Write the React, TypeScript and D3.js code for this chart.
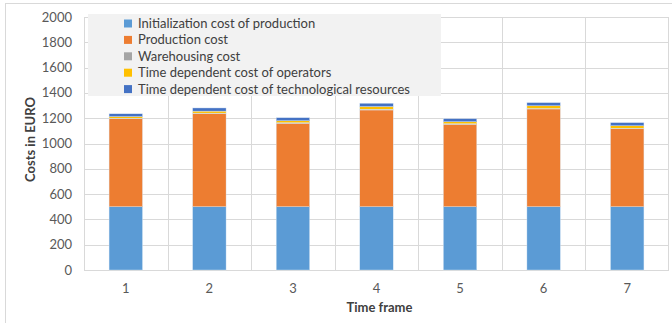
import * as d3 from "d3";

const frames = ["1", "2", "3", "4", "5", "6", "7"];
const seriesNames = [
  "Initialization cost of production",
  "Production cost",
  "Warehousing cost",
  "Time dependent cost of operators",
  "Time dependent cost of technological resources",
];
const seriesColors = ["#5b9bd5", "#ed7d31", "#a5a5a5", "#ffc000", "#4472c4"];
const initCost = [500, 500, 500, 500, 500, 500, 500];
const productionCost = [697, 736, 660, 765, 652, 773, 617];
const warehousingCost = [3, 4, 4, 6, 4, 4, 4];
const operatorsCost = [13, 16, 16, 21, 16, 21, 19];
const techCost = [22, 25, 24, 26, 24, 25, 25];
const yTicks = [0, 200, 400, 600, 800, 1000, 1200, 1400, 1600, 1800, 2000];

const W = 672;
const H = 323;
const margin = { top: 17, right: 3, bottom: 53, left: 84 };
const font = "Lato, 'Open Sans', sans-serif";

export default function App() {
  const innerW = W - margin.left - margin.right;
  const innerH = H - margin.top - margin.bottom;

  const rows = frames.map((f, i) => ({
    frame: f,
    s0: initCost[i],
    s1: productionCost[i],
    s2: warehousingCost[i],
    s3: operatorsCost[i],
    s4: techCost[i],
  }));
  const keys = ["s0", "s1", "s2", "s3", "s4"];
  const stacked = d3.stack<any>().keys(keys)(rows);

  const x = d3.scaleBand().domain(frames).range([0, innerW]).paddingInner(0).paddingOuter(0);
  const y = d3.scaleLinear().domain([0, 2000]).range([innerH, 0]);
  const bw = x.bandwidth() * 0.4;

  return (
    <svg
      width={W}
      height={H}
      style={{ position: "absolute", left: 0, top: 0, background: "#fff" }}
      fontFamily={font}
    >
      {/* outer chart border (partly cropped) */}
      <line x1={5} x2={W} y1={3.5} y2={3.5} stroke="#d9d9d9" />
      <line x1={5.5} x2={5.5} y1={3} y2={H} stroke="#d9d9d9" />

      <g transform={`translate(${margin.left},${margin.top})`}>
        {/* horizontal gridlines */}
        {yTicks.map((t) => (
          <line key={"h" + t} x1={0} x2={innerW} y1={Math.round(y(t)) + 0.5} y2={Math.round(y(t)) + 0.5} stroke="#d9d9d9" />
        ))}
        {/* vertical gridlines at category bounds */}
        {frames.map((f) => (
          <line key={"v" + f} x1={Math.round(x(f)!) + 0.5} x2={Math.round(x(f)!) + 0.5} y1={0} y2={innerH} stroke="#d9d9d9" />
        ))}
        <line x1={innerW - 0.5} x2={innerW - 0.5} y1={0} y2={innerH} stroke="#d9d9d9" />

        {/* bars */}
        {stacked.map((layer, li) => (
          <g key={layer.key} fill={seriesColors[li]}>
            {layer.map((d, i) => (
              <rect
                key={i}
                x={x(frames[i])! + (x.bandwidth() - bw) / 2}
                y={y(d[1])}
                width={bw}
                height={y(d[0]) - y(d[1])}
                stroke="#dbe8f6"
                strokeWidth={0.4}
              />
            ))}
          </g>
        ))}

        {/* y tick labels */}
        {yTicks.map((t) => (
          <text key={"t" + t} x={-12} y={y(t)} dy="0.35em" textAnchor="end" fontSize={13} fill="#595959">
            {t}
          </text>
        ))}
        {/* x tick labels */}
        {frames.map((f) => (
          <text key={"x" + f} x={x(f)! + x.bandwidth() / 2} y={innerH + 23} textAnchor="middle" fontSize={13} fill="#595959">
            {f}
          </text>
        ))}
        <text x={innerW / 2 + 3} y={innerH + 42} textAnchor="middle" fontSize={13} fontWeight="bold" fill="#404040">
          Time frame
        </text>
        <text
          transform={`translate(${-49},${innerH / 2 - 4}) rotate(-90)`}
          textAnchor="middle"
          fontSize={13}
          fontWeight="bold"
          fill="#404040"
        >
          Costs in EURO
        </text>
      </g>

      {/* legend */}
      <g>
        <rect x={88} y={14} width={353} height={82} fill="#f2f2f2" />
        {seriesNames.map((n, i) => (
          <g key={n} transform={`translate(124,${23.5 + i * 16.4})`}>
            <rect x={0} y={-4} width={8} height={8} fill={seriesColors[i]} />
            <text x={14} y={0} dy="0.35em" fontSize={13} fill="#404040">
              {n}
            </text>
          </g>
        ))}
      </g>
    </svg>
  );
}
